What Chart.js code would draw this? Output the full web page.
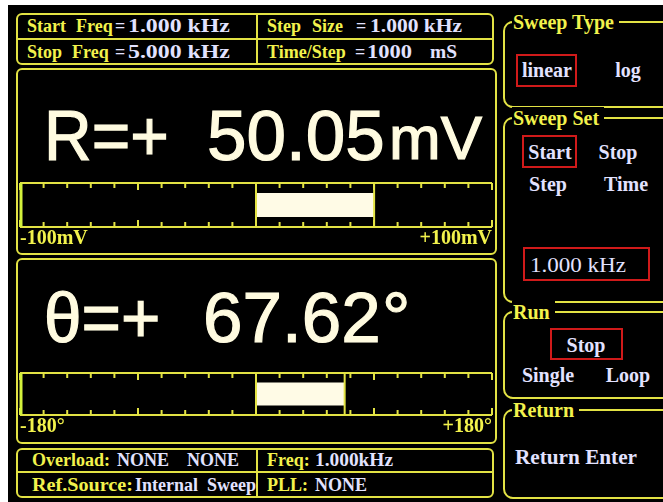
<!DOCTYPE html>
<html>
<head>
<meta charset="utf-8">
<script src="https://cdn.jsdelivr.net/npm/chart.js@4"></script>
<style>
  html, body { margin: 0; padding: 0; background: #fff; width: 663px; height: 502px; overflow: hidden; }
  #screen { position: absolute; left: 8px; top: 5px; width: 655px; height: 497px; background: #000; }
  .box { position: absolute; border: 2px solid #e2e244; border-radius: 6px; box-sizing: border-box; }
  .hl { position: absolute; height: 2px; background: #e2e244; }
  .vl { position: absolute; width: 2px; background: #e2e244; }
  .t { position: absolute; white-space: nowrap; line-height: 1; font-family: "Liberation Serif", "DejaVu Serif", serif; font-weight: bold; font-size: 18px; transform: translateY(-50%); transform-origin: left center; }
  .c { transform: translate(-50%, -50%); }
  .y { color: #f2f24c; }
  .w { color: #e2e2ff; }
  .big { position: absolute; white-space: nowrap; line-height: 1; font-family: "Liberation Sans", Arial, sans-serif; color: #fffbe0; -webkit-text-stroke: 1.2px #fffbe0; transform-origin: left top; }
  .grp { position: absolute; left: 503px; width: 170px; border: 2px solid #e2e244; border-radius: 10px 0 0 10px; box-sizing: border-box; }
  .grp .ttl { position: absolute; left: 7px; top: -12px; background: #000; padding: 0 5px 0 1px; color: #f2f24c; font: bold 20px "Liberation Serif", serif; line-height: 22px; }
  .sel { position: absolute; border: 2px solid #d01a1a; box-sizing: border-box; }
  .opt { font-size: 20px; }
  canvas { position: absolute; }
</style>
</head>
<body>
<div id="screen"></div>

<!-- top parameter box -->
<div class="box" style="left:16px;top:13px;width:478px;height:52px;"></div>
<div class="hl" style="left:17px;top:38px;width:476px;"></div>
<div class="vl" style="left:256px;top:14px;height:50px;"></div>
<div class="t y" style="left:27px;top:26px;">Start</div>
<div class="t y" style="left:76px;top:26px;">Freq</div>
<div class="t w" style="left:115px;top:26px;">=</div>
<div class="t w fit" data-w="102" style="left:128px;top:26px;">1.000 kHz</div>
<div class="t y" style="left:267px;top:26px;">Step</div>
<div class="t y" style="left:312px;top:26px;">Size</div>
<div class="t w" style="left:356px;top:26px;">=</div>
<div class="t w fit" data-w="92" style="left:370px;top:26px;">1.000 kHz</div>
<div class="t y" style="left:27px;top:52px;">Stop</div>
<div class="t y" style="left:72px;top:52px;">Freq</div>
<div class="t w" style="left:115px;top:52px;">=</div>
<div class="t w fit" data-w="102" style="left:128px;top:52px;">5.000 kHz</div>
<div class="t y" style="left:267px;top:52px;">Time/Step</div>
<div class="t w" style="left:355px;top:52px;">=</div>
<div class="t w fit" data-w="45" style="left:367px;top:52px;">1000</div>
<div class="t w fit" data-w="27" style="left:430px;top:52px;">mS</div>

<!-- R box -->
<div class="box" style="left:16px;top:68px;width:481px;height:187px;"></div>
<div class="big" id="rName" style="left:44px;top:100px;font-size:71px;transform:scaleX(0.93);"></div>
<div class="big" id="rVal" style="left:207px;top:100px;font-size:71px;"></div>
<div class="big" id="rUnit" style="left:389px;top:107px;font-size:62px;"></div>
<canvas id="gaugeR" width="476" height="72" style="left:18px;top:181px;"></canvas>

<!-- theta box -->
<div class="box" style="left:16px;top:258px;width:481px;height:186px;"></div>
<div class="big" id="pName" style="left:44px;top:282px;font-size:71px;transform:scaleX(0.95);"></div>
<div class="big" id="pVal" style="left:203px;top:282px;font-size:71px;"></div>
<div class="big" id="pUnit" style="left:382px;top:282px;font-size:71px;"></div>
<canvas id="gaugeP" width="476" height="70" style="left:18px;top:371px;"></canvas>

<!-- bottom status box -->
<div class="box" style="left:16px;top:448px;width:478px;height:50px;"></div>
<div class="hl" style="left:17px;top:471px;width:476px;"></div>
<div class="vl" style="left:256px;top:449px;height:48px;"></div>
<div class="t y" style="left:32px;top:460px;">Overload:</div>
<div class="t w" style="left:117px;top:460px;">NONE</div>
<div class="t w" style="left:187px;top:460px;">NONE</div>
<div class="t y" style="left:267px;top:460px;">Freq:</div>
<div class="t w fit" data-w="78" style="left:315px;top:460px;">1.000kHz</div>
<div class="t y fit" data-w="101" style="left:32px;top:485px;">Ref.Source:</div>
<div class="t w" style="left:135px;top:485px;">Internal&nbsp;&nbsp;Sweep</div>
<div class="t y" style="left:267px;top:485px;">PLL:</div>
<div class="t w" style="left:315px;top:485px;">NONE</div>

<!-- right menu -->
<div class="grp" style="top:21px;height:87px;"><span class="ttl">Sweep Type</span></div>
<div class="sel" style="left:516px;top:54px;width:61px;height:33px;"></div>
<div class="t w c opt" style="left:547px;top:70px;">linear</div>
<div class="t w c opt" style="left:628px;top:70px;">log</div>

<div class="grp" style="top:117px;height:186px;"><span class="ttl">Sweep Set</span></div>
<div class="sel" style="left:522px;top:135px;width:55px;height:33px;"></div>
<div class="t w c opt" style="left:550px;top:152px;">Start</div>
<div class="t w c opt" style="left:618px;top:152px;">Stop</div>
<div class="t w c opt" style="left:548px;top:184px;">Step</div>
<div class="t w c opt" style="left:626px;top:184px;">Time</div>
<div class="sel" style="left:523px;top:247px;width:127px;height:34px;"></div>
<div class="t w opt fit" data-w="96" style="left:530px;top:265px;font-weight:normal;font-size:21px;">1.000 kHz</div>

<div class="grp" style="top:311px;height:88px;"><span class="ttl">Run</span></div>
<div class="sel" style="left:550px;top:328px;width:73px;height:32px;"></div>
<div class="t w c opt" style="left:586px;top:345px;">Stop</div>
<div class="t w c opt" style="left:548px;top:375px;">Single</div>
<div class="t w c opt" style="left:628px;top:375px;">Loop</div>

<div class="grp" style="top:409px;height:90px;"><span class="ttl">Return</span></div>
<div class="t w opt fit" data-w="122" style="left:515px;top:457px;">Return Enter</div>

<script>
// ===== gauge data =====
const gaugeNames = ['R', 'θ'];
const gaugeValues = [50.05, 67.62];
const gaugeMins = [-100, -180];
const gaugeMaxs = [100, 180];
const gaugeSteps = [10, 18];
const gaugeUnits = ['mV', '°'];
const gaugeEndLabels = [['-100mV', '+100mV'], ['-180°', '+180°']];

const YELLOW = '#e2e244';
const YELLOW_TXT = '#f2f24c';

// stretch some text tokens to the widths seen on the instrument screen
document.querySelectorAll('.fit').forEach(el => {
  const target = +el.dataset.w;
  const actual = el.getBoundingClientRect().width;
  if (actual > 0) el.style.transform = `translateY(-50%) scaleX(${(target / actual).toFixed(3)})`;
});

// readouts
document.getElementById('rName').textContent = gaugeNames[0] + '=+';
document.getElementById('rVal').textContent = gaugeValues[0].toFixed(2);
document.getElementById('rUnit').textContent = gaugeUnits[0];
document.getElementById('pName').textContent = gaugeNames[1] + '=+';
document.getElementById('pVal').textContent = gaugeValues[1].toFixed(2);
document.getElementById('pUnit').textContent = gaugeUnits[1];

// rails, tick marks and bar edge lines
const gaugeFrame = {
  id: 'gaugeFrame',
  afterDatasetsDraw(chart, args, opts) {
    const { ctx, chartArea: a } = chart;
    const x = chart.scales.x;
    ctx.save();
    ctx.strokeStyle = YELLOW;
    ctx.lineWidth = 2;
    ctx.beginPath();
    ctx.moveTo(a.left, a.top); ctx.lineTo(a.right, a.top);
    ctx.moveTo(a.left, a.bottom); ctx.lineTo(a.right, a.bottom);
    const n = Math.round((x.max - x.min) / opts.step);
    for (let k = 0; k <= n; k++) {
      const px = x.getPixelForValue(x.min + k * opts.step);
      const len = k % 5 === 0 ? 7 : 5;
      ctx.moveTo(px, a.top); ctx.lineTo(px, a.top + len);
      ctx.moveTo(px, a.bottom); ctx.lineTo(px, a.bottom - len);
    }
    [0, opts.value].forEach(v => {
      const px = x.getPixelForValue(v);
      ctx.moveTo(px, a.top); ctx.lineTo(px, a.bottom);
    });
    ctx.stroke();
    // bright left edge
    ctx.strokeStyle = '#d4f23c';
    ctx.lineWidth = 3;
    ctx.beginPath();
    ctx.moveTo(a.left + 1, a.top); ctx.lineTo(a.left + 1, a.bottom);
    ctx.stroke();
    ctx.restore();
  }
};

function makeGauge(i, id) {
  return new Chart(document.getElementById(id), {
    type: 'bar',
    data: {
      labels: [gaugeNames[i]],
      datasets: [{
        data: [[0, gaugeValues[i]]],
        backgroundColor: '#fffbe6',
        borderWidth: 0,
        barPercentage: 1,
        categoryPercentage: 0.55
      }]
    },
    options: {
      indexAxis: 'y',
      responsive: false,
      animation: false,
      layout: { padding: { left: 2, right: 2, top: 2, bottom: 0 } },
      plugins: {
        legend: { display: false },
        tooltip: { enabled: false },
        gaugeFrame: { step: gaugeSteps[i], value: gaugeValues[i] }
      },
      scales: {
        y: { display: false },
        x: {
          min: gaugeMins[i],
          max: gaugeMaxs[i],
          grid: { display: false, drawTicks: false },
          border: { display: false },
          afterFit: s => { s.height = 26; },
          afterBuildTicks: s => { s.ticks = [{ value: gaugeMins[i] }, { value: gaugeMaxs[i] }]; },
          ticks: {
            align: 'inner',
            padding: 0,
            color: YELLOW_TXT,
            font: { family: 'Liberation Serif', weight: 'bold', size: 20 },
            callback: (v, idx) => gaugeEndLabels[i][idx === 0 ? 0 : 1]
          }
        }
      }
    },
    plugins: [gaugeFrame]
  });
}

makeGauge(0, 'gaugeR');
makeGauge(1, 'gaugeP');
</script>
</body>
</html>
